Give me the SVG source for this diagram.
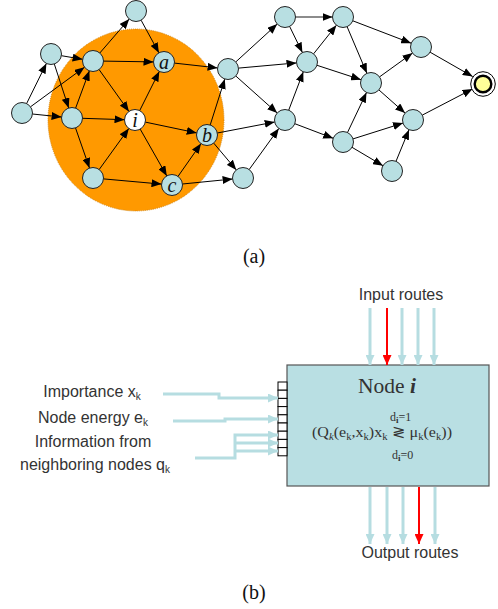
<svg xmlns="http://www.w3.org/2000/svg" width="498" height="609" viewBox="0 0 498 609">
<style>
.nd{fill:#b8dfe2;stroke:#222;stroke-width:1}
.e{stroke:#000;stroke-width:1;fill:none;marker-end:url(#ah)}
.lbl{font-family:"Liberation Serif",serif;font-style:italic;font-size:20px;fill:#111;text-anchor:middle}
.cap{font-family:"Liberation Serif",serif;font-size:20px;fill:#111;text-anchor:middle}
.sans{font-family:"Liberation Sans",Arial,sans-serif;font-size:16px;fill:#333}
.ser{font-family:"Liberation Serif",serif;fill:#333}
.ba{stroke:#b6dde1;stroke-width:3;fill:none;marker-end:url(#bh)}
.ra{stroke:#ff0000;stroke-width:2;fill:none;marker-end:url(#rh)}
.port{fill:#fff;stroke:#000;stroke-width:1}
</style>
<defs>
<marker id="ah" markerUnits="userSpaceOnUse" markerWidth="10" markerHeight="8" viewBox="0 0 10 8" refX="10" refY="4" orient="auto"><path d="M0,0 L10,4 L0,8 z" fill="#000"/></marker>
<marker id="bh" markerUnits="userSpaceOnUse" markerWidth="10" markerHeight="9" viewBox="0 0 10 9" refX="10" refY="4.5" orient="auto"><path d="M0,0 L10,4.5 L0,9 z" fill="#b6dde1"/></marker>
<marker id="rh" markerUnits="userSpaceOnUse" markerWidth="10" markerHeight="9" viewBox="0 0 10 9" refX="10" refY="4.5" orient="auto"><path d="M0,0 L10,4.5 L0,9 z" fill="#ff0000"/></marker>
</defs>
<rect width="498" height="609" fill="#fff"/>

<g id="neighborhood">
<ellipse cx="136" cy="120" rx="88" ry="91" fill="#ff9900" stroke="#c87800" stroke-width="0.8" stroke-dasharray="1,1"/>
</g>

<g id="connectors">
<line class="e" x1="26.6" y1="103.6" x2="46.4" y2="63.4"/>
<line class="e" x1="30.5" y1="106.8" x2="84.5" y2="67.2"/>
<line class="e" x1="32.4" y1="114" x2="61.6" y2="117"/>
<line class="e" x1="61.4" y1="55.7" x2="82.6" y2="59.3"/>
<line class="e" x1="54.3" y1="64" x2="68.7" y2="108"/>
<line class="e" x1="99.8" y1="53" x2="129.2" y2="19"/>
<line class="e" x1="141.1" y1="20.2" x2="158.9" y2="52.8"/>
<line class="e" x1="103.5" y1="61.1" x2="153.5" y2="61.9"/>
<line class="e" x1="99.1" y1="69.6" x2="128.9" y2="111.4"/>
<line class="e" x1="75.6" y1="108.2" x2="89.4" y2="70.8"/>
<line class="e" x1="82.5" y1="118.3" x2="124.5" y2="119.7"/>
<line class="e" x1="75.5" y1="127.9" x2="89.5" y2="168.1"/>
<line class="e" x1="99.2" y1="169.5" x2="128.8" y2="128.5"/>
<line class="e" x1="103.5" y1="178.9" x2="161.5" y2="184.1"/>
<line class="e" x1="139.7" y1="110.6" x2="159.3" y2="71.4"/>
<line class="e" x1="145.3" y1="122.1" x2="196.7" y2="132.9"/>
<line class="e" x1="140.2" y1="129.1" x2="166.8" y2="175.9"/>
<line class="e" x1="178" y1="176.4" x2="201" y2="143.6"/>
<line class="e" x1="210.2" y1="125" x2="224.8" y2="79"/>
<line class="e" x1="174.4" y1="63.1" x2="217.6" y2="67.9"/>
<line class="e" x1="213.7" y1="143.1" x2="236.3" y2="169.9"/>
<line class="e" x1="182.4" y1="184" x2="232.6" y2="179"/>
<line class="e" x1="217.3" y1="133" x2="274.7" y2="122"/>
<line class="e" x1="235.8" y1="61.9" x2="277.2" y2="24.1"/>
<line class="e" x1="238.5" y1="68.1" x2="296.5" y2="62.9"/>
<line class="e" x1="235.8" y1="76" x2="277.2" y2="113"/>
<line class="e" x1="295.5" y1="17" x2="332.5" y2="17" style="stroke:#666;stroke-width:1.3"/>
<line class="e" x1="289.6" y1="26.4" x2="302.4" y2="52.6"/>
<line class="e" x1="313.6" y1="53.8" x2="336.4" y2="25.2"/>
<line class="e" x1="352.8" y1="20.8" x2="411.2" y2="43.2"/>
<line class="e" x1="347.1" y1="26.7" x2="366.9" y2="73.3"/>
<line class="e" x1="317" y1="65.3" x2="361" y2="79.7"/>
<line class="e" x1="288.7" y1="110.2" x2="303.3" y2="71.8"/>
<line class="e" x1="294.8" y1="123.7" x2="333.2" y2="138.3"/>
<line class="e" x1="249.2" y1="169.5" x2="278.8" y2="128.5"/>
<line class="e" x1="347.5" y1="132.5" x2="366.5" y2="92.5"/>
<line class="e" x1="353" y1="138.9" x2="403" y2="123.1"/>
<line class="e" x1="352" y1="147.3" x2="383" y2="165.7"/>
<line class="e" x1="379.5" y1="76.9" x2="412.5" y2="53.1"/>
<line class="e" x1="378.9" y1="89.9" x2="405.1" y2="113.1"/>
<line class="e" x1="396" y1="161.3" x2="409" y2="129.7"/>
<line class="e" x1="430.1" y1="52.2" x2="472.7" y2="76.6"/>
<line class="e" x1="422.3" y1="115.1" x2="472.5" y2="89"/>
</g>

<g id="n1"><circle class="nd" cx="136" cy="11" r="10.5"/></g>
<g id="n2"><circle class="nd" cx="51" cy="54" r="10.5"/></g>
<g id="n3"><circle class="nd" cx="22" cy="113" r="10.5"/></g>
<g id="n4"><circle class="nd" cx="93" cy="61" r="10.5"/></g>
<g id="node-a"><circle class="nd" cx="164" cy="62" r="10.5"/><text class="lbl" x="164" y="69">a</text></g>
<g id="n5"><circle class="nd" cx="72" cy="118" r="10.5"/></g>
<g id="node-i"><circle cx="135" cy="120" r="10.5" fill="#fff" stroke="#222"/><text class="lbl" x="135" y="127">i</text></g>
<g id="n6"><circle class="nd" cx="93" cy="178" r="10.5"/></g>
<g id="node-c"><circle class="nd" cx="172" cy="185" r="10.5"/><text class="lbl" x="172" y="192">c</text></g>
<g id="node-b"><circle class="nd" cx="207" cy="135" r="10.5"/><text class="lbl" x="207" y="142">b</text></g>
<g id="n7"><circle class="nd" cx="228" cy="69" r="10.5"/></g>
<g id="n8"><circle class="nd" cx="243" cy="178" r="10.5"/></g>
<g id="p1"><circle class="nd" cx="285" cy="17" r="10.5"/></g>
<g id="p2"><circle class="nd" cx="343" cy="17" r="10.5"/></g>
<g id="p3"><circle class="nd" cx="307" cy="62" r="10.5"/></g>
<g id="p4"><circle class="nd" cx="421" cy="47" r="10.5"/></g>
<g id="p5"><circle class="nd" cx="371" cy="83" r="10.5"/></g>
<g id="p7"><circle class="nd" cx="285" cy="120" r="10.5"/></g>
<g id="p8"><circle class="nd" cx="343" cy="142" r="10.5"/></g>
<g id="p9"><circle class="nd" cx="413" cy="120" r="10.5"/></g>
<g id="p10"><circle class="nd" cx="392" cy="171" r="10.5"/></g>
<g id="target">
<circle cx="483" cy="84" r="12.3" fill="#fff" stroke="#000" stroke-width="1"/>
<circle cx="483" cy="84" r="8.3" fill="#ffff99" stroke="#000" stroke-width="2.4"/>
</g>

<text class="cap" x="254" y="263">(a)</text>

<g id="node-i-box">
<rect x="287" y="365" width="202" height="121" fill="#b9dfe3" stroke="#555" stroke-width="1.2"/>
<text class="ser" x="358" y="393" font-size="21.5" fill="#111">Node <tspan font-style="italic" font-weight="bold">i</tspan></text>
<text class="ser" x="390" y="421" font-size="12">d<tspan font-size="9" dy="2" font-weight="bold">i</tspan><tspan dy="-2">=1</tspan></text>
<text class="ser" x="312" y="437" font-size="15" textLength="140" lengthAdjust="spacingAndGlyphs">(Q<tspan font-size="10" dy="3" font-style="italic">k</tspan><tspan dy="-3">(e</tspan><tspan font-size="10" dy="3">k</tspan><tspan dy="-3">,x</tspan><tspan font-size="10" dy="3">k</tspan><tspan dy="-3">)x</tspan><tspan font-size="10" dy="3">k</tspan><tspan dy="-3"> ≷ μ</tspan><tspan font-size="10" dy="3">k</tspan><tspan dy="-3">(e</tspan><tspan font-size="10" dy="3">k</tspan><tspan dy="-3">))</tspan></text>
<text class="ser" x="392" y="459" font-size="12">d<tspan font-size="9" dy="2" font-weight="bold">i</tspan><tspan dy="-2">=0</tspan></text>
</g>

<g id="ports">
<rect class="port" x="278" y="382" width="9" height="8.2"/>
<rect class="port" x="278" y="390.2" width="9" height="8.2"/>
<rect class="port" x="278" y="398.4" width="9" height="8.2"/>
<rect class="port" x="278" y="406.6" width="9" height="8.2"/>
<rect class="port" x="278" y="414.8" width="9" height="8.2"/>
<rect class="port" x="278" y="423" width="9" height="8.2"/>
<rect class="port" x="278" y="431.2" width="9" height="8.2"/>
<rect class="port" x="278" y="439.4" width="9" height="8.2"/>
<rect class="port" x="278" y="447.6" width="9" height="8.2"/>
</g>

<g id="route-arrows">
<line class="ba" x1="370" y1="308" x2="370" y2="365"/>
<line class="ra" x1="387" y1="308" x2="387" y2="365"/>
<line class="ba" x1="402" y1="308" x2="402" y2="365"/>
<line class="ba" x1="418" y1="308" x2="418" y2="365"/>
<line class="ba" x1="434" y1="308" x2="434" y2="365"/>
<line class="ba" x1="370" y1="487" x2="370" y2="544"/>
<line class="ba" x1="387" y1="487" x2="387" y2="544"/>
<line class="ba" x1="403" y1="487" x2="403" y2="544"/>
<line class="ra" x1="419" y1="487" x2="419" y2="544"/>
<line class="ba" x1="435" y1="487" x2="435" y2="544"/>
<path class="ba" d="M163,394 H219 V398 H278"/>
<path class="ba" d="M173,421 H225 V419 H278"/>
<path class="ba" d="M195,458 H235 V435 H278"/>
<path class="ba" d="M235,443 H278"/>
<path class="ba" d="M235,451 H278"/>
</g>

<text class="sans" x="401" y="300" text-anchor="middle">Input routes</text>
<text class="sans" x="410" y="558" font-size="16.5" text-anchor="middle">Output routes</text>
<text class="sans" x="92" y="397" text-anchor="middle">Importance x<tspan font-size="10" dy="3">k</tspan></text>
<text class="sans" x="93" y="423" text-anchor="middle">Node energy e<tspan font-size="10" dy="3">k</tspan></text>
<text class="sans" x="93" y="447" text-anchor="middle">Information from</text>
<text class="sans" x="95" y="470" text-anchor="middle">neighboring nodes q<tspan font-size="10" dy="3">k</tspan></text>

<text class="cap" x="254" y="599">(b)</text>
</svg>
